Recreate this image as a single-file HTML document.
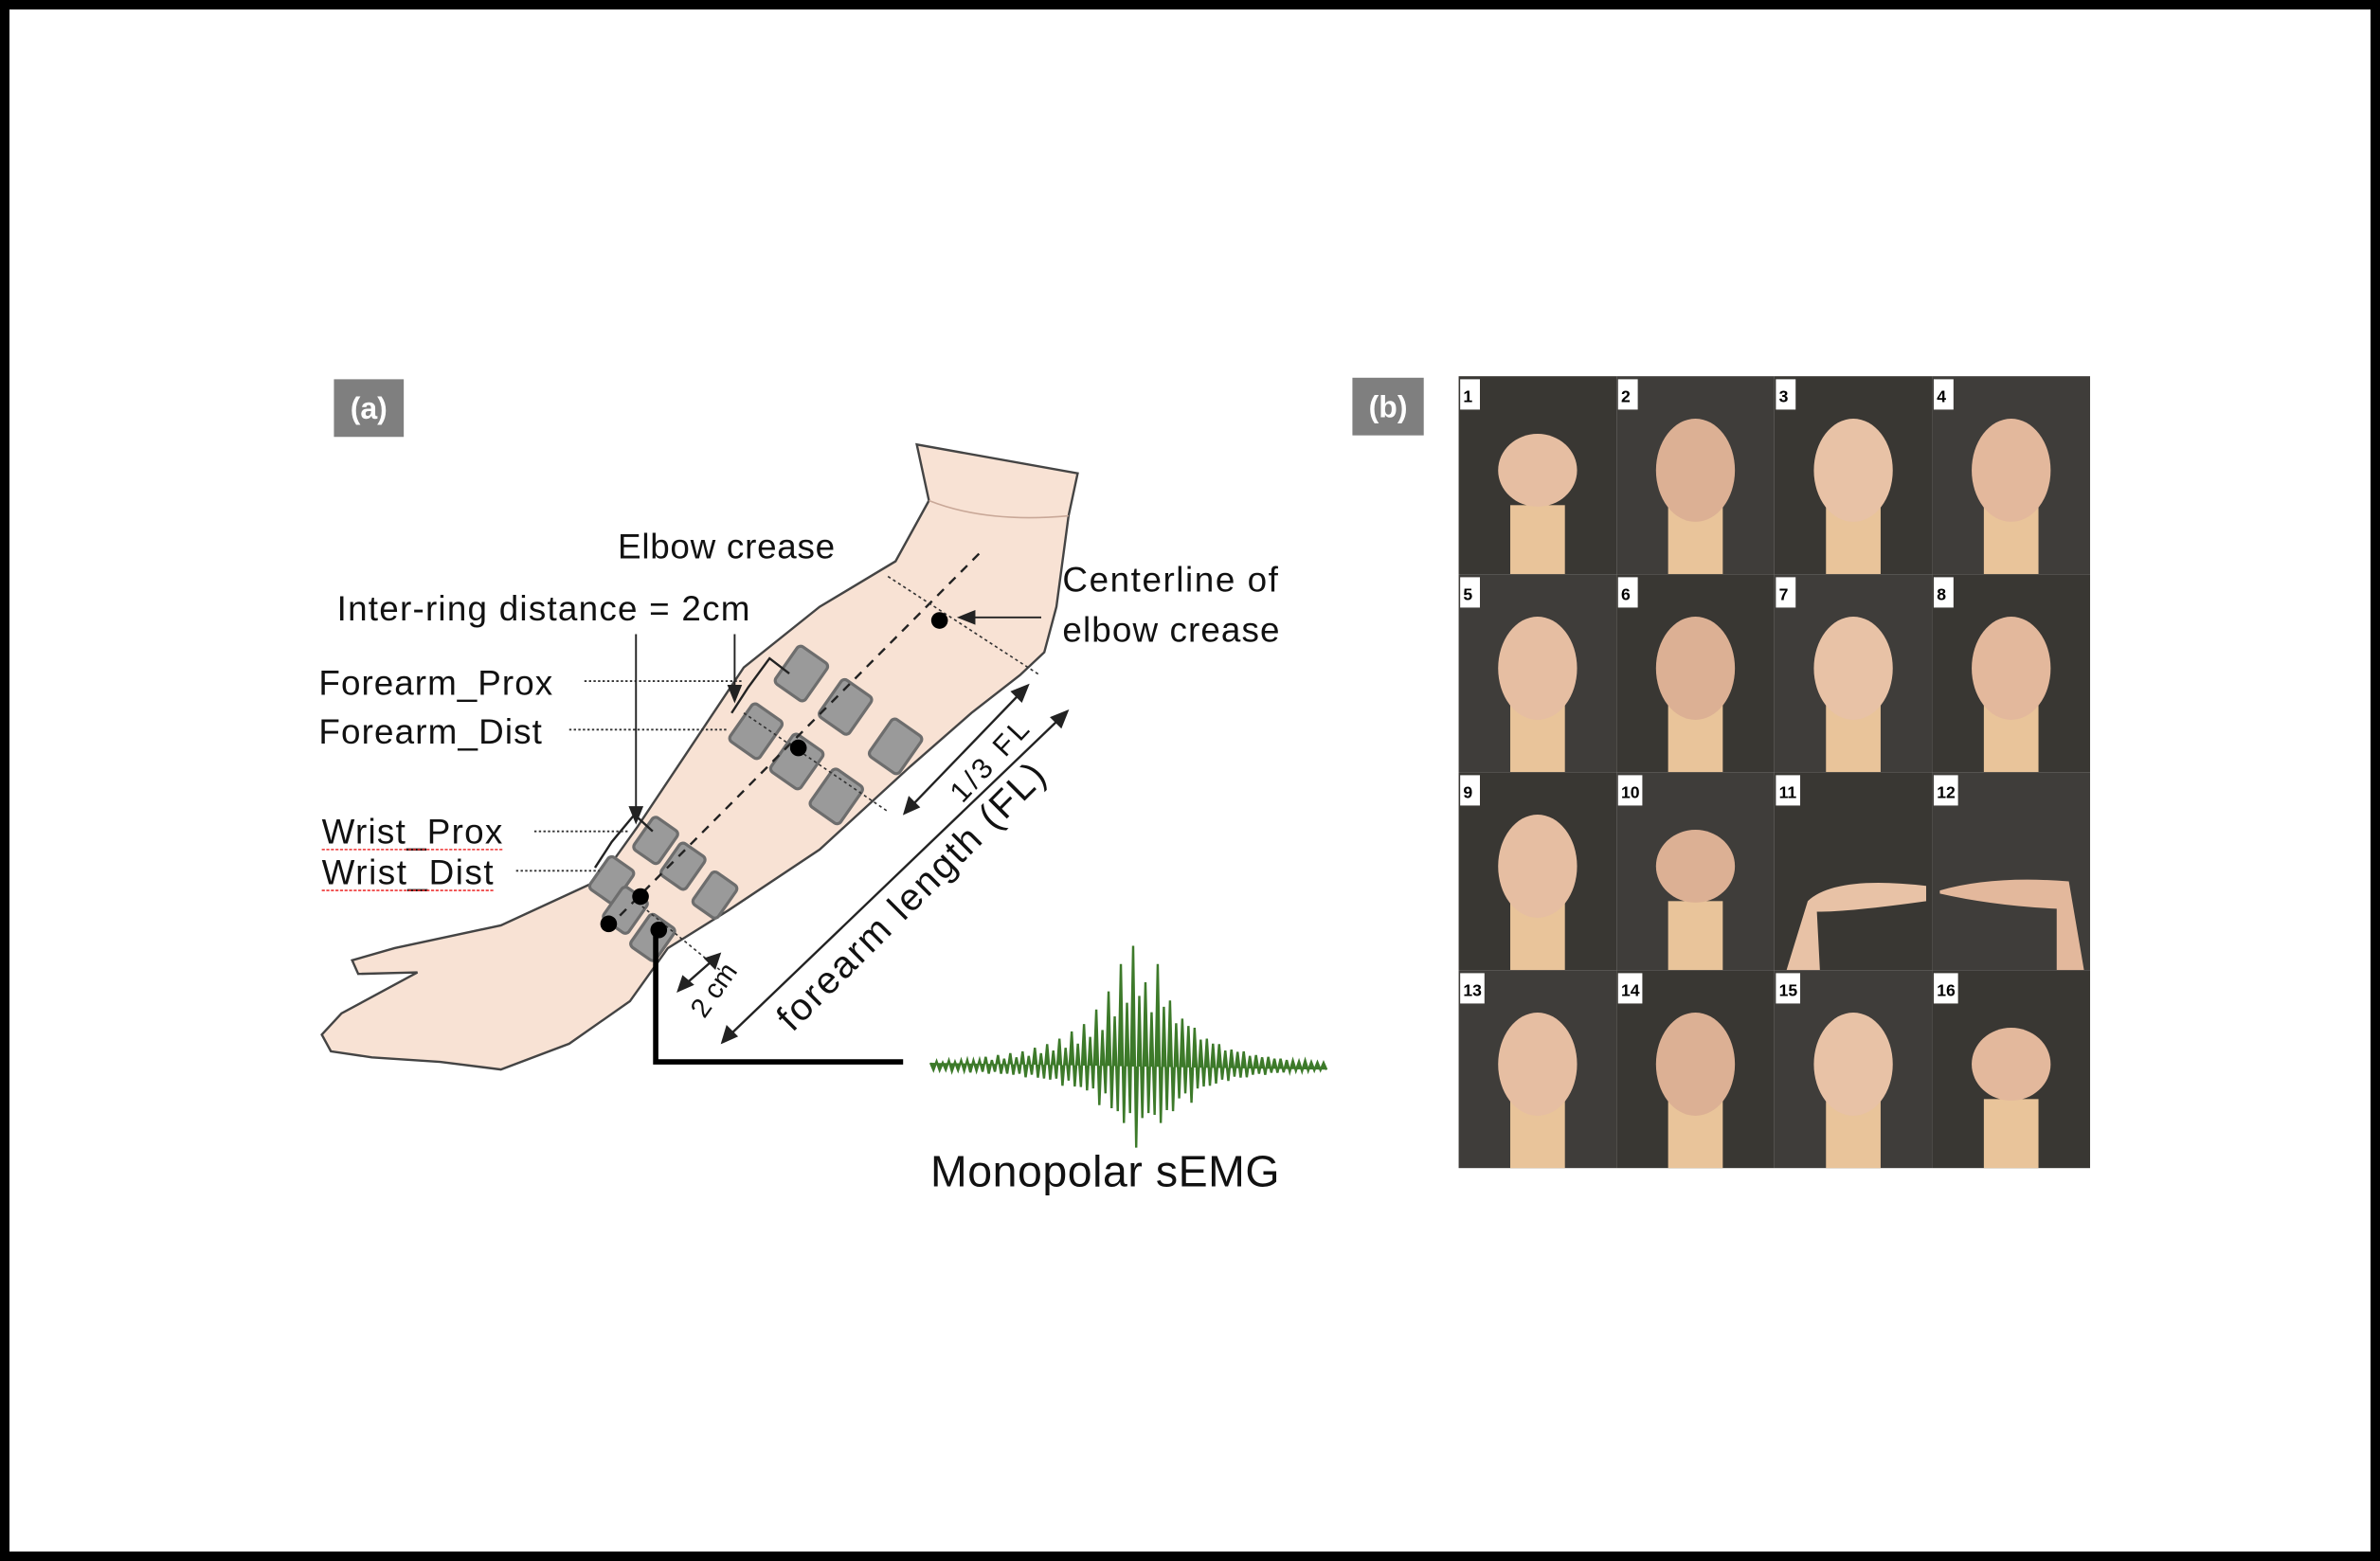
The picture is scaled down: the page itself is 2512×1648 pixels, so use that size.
<!DOCTYPE html>
<html><head><meta charset="utf-8"><style>
html,body{margin:0;padding:0;background:#000;width:2512px;height:1648px;overflow:hidden}
#canvas{position:absolute;left:10px;top:10px;width:2492px;height:1628px;background:#fff}
svg{position:absolute;left:0;top:0}
text{font-family:"Liberation Sans",sans-serif}
</style></head><body>
<div id="canvas"></div>
<svg id="fig" width="2512" height="1648" viewBox="0 0 1568 1029" preserveAspectRatio="none">
  <g>
    <rect x="220" y="250" width="46" height="38" fill="#7f7f7f"/>
    <text x="243" y="276" font-size="20" font-weight="bold" fill="#fff" text-anchor="middle">(a)</text>
    <path d="M604,293 L612,330 L590,370 L540,400 L490,440 L450,500 L420,545 L395,580 L330,610 L260,625 L232,633 L236,642 L275,641 L225,668 L212,682 L218,693 L245,697 L290,700 L330,705 L375,688 L415,660 L440,625 L480,600 L540,560 L600,505 L640,470 L672,445 L688,430 L696,400 L704,340 L710,312 Z" fill="#f8e2d4" stroke="#444" stroke-width="1.5"/>
    <path d="M612,330 Q650,345 704,340" fill="none" stroke="#c9a898" stroke-width="1"/>
    <g fill="#9a9a9a" stroke="#6d6d6d" stroke-width="2">
      <rect x="-12" y="-15" width="24" height="30" rx="3" transform="translate(528,444) rotate(35)"/>
      <rect x="-12" y="-15" width="24" height="30" rx="3" transform="translate(557,466) rotate(35)"/>
      <rect x="-12" y="-15" width="24" height="30" rx="3" transform="translate(590,492) rotate(35)"/>
      <rect x="-12" y="-15" width="24" height="30" rx="3" transform="translate(498,482) rotate(35)"/>
      <rect x="-12" y="-15" width="24" height="30" rx="3" transform="translate(525,502) rotate(35)"/>
      <rect x="-12" y="-15" width="24" height="30" rx="3" transform="translate(551,525) rotate(35)"/>
      <rect x="-10" y="-13" width="20" height="26" rx="3" transform="translate(432,554) rotate(35)"/>
      <rect x="-10" y="-13" width="20" height="26" rx="3" transform="translate(450,571) rotate(35)"/>
      <rect x="-10" y="-13" width="20" height="26" rx="3" transform="translate(471,590) rotate(35)"/>
      <rect x="-10" y="-13" width="20" height="26" rx="3" transform="translate(403,580) rotate(35)"/>
      <rect x="-10" y="-13" width="20" height="26" rx="3" transform="translate(412,600) rotate(35)"/>
      <rect x="-10" y="-13" width="20" height="26" rx="3" transform="translate(430,618) rotate(35)"/>
    </g>
    <line x1="645" y1="365" x2="400" y2="612" stroke="#222" stroke-width="1.5" stroke-dasharray="6,5"/>
    <g stroke="#333" stroke-width="1" stroke-dasharray="2,2" fill="none">
      <line x1="585" y1="380" x2="685" y2="445"/>
      <line x1="490" y1="470" x2="585" y2="535"/>
      <line x1="420" y1="595" x2="475" y2="640"/>
    </g>
    <g fill="#000">
      <circle cx="619" cy="409" r="5.5"/><circle cx="526" cy="493" r="5.5"/>
      <circle cx="422" cy="591" r="5.5"/><circle cx="401" cy="609" r="5.5"/><circle cx="434" cy="613" r="5.5"/>
    </g>
    <g stroke="#222" stroke-width="1.5" fill="none">
      <path d="M482,470 L493,453 L507,434 L520,444"/>
      <path d="M392,572 L403,555 L418,537 L430,548"/>
    </g>
    <g stroke="#333" stroke-width="1.2" stroke-dasharray="1.5,1.5">
      <line x1="385" y1="449" x2="490" y2="449"/><line x1="375" y1="481" x2="480" y2="481"/>
      <line x1="352" y1="548" x2="415" y2="548"/><line x1="340" y1="574" x2="395" y2="574"/>
    </g>
    <g stroke="#222" stroke-width="1.2" fill="#222">
      <line x1="419" y1="418" x2="419" y2="540"/><path d="M415,532 L419,542 L423,532 Z"/>
      <line x1="484" y1="418" x2="484" y2="460"/><path d="M480,452 L484,462 L488,452 Z"/>
      <line x1="686" y1="407" x2="634" y2="407"/><path d="M642,403 L632,407 L642,411 Z"/>
    </g>
    <g stroke="#222" stroke-width="1.5" fill="#222">
      <line x1="596" y1="536" x2="676" y2="453"/><path d="M596,536 L599,526 L605,532 Z"/><path d="M677,452 L667,456 L673,462 Z"/>
      <line x1="477" y1="686" x2="702" y2="470"/><path d="M476,687 L479,677 L485,683 Z"/><path d="M703,469 L693,473 L699,479 Z"/>
      <line x1="448" y1="652" x2="473" y2="630"/><path d="M447,653 L450,644 L456,649 Z"/><path d="M474,629 L465,632 L471,638 Z"/>
    </g>
    <path d="M432,612 L432,700 L595,700" stroke="#000" stroke-width="3.5" fill="none"/>
    <polyline id="emg" fill="#3d7a2a" stroke="#3d7a2a" stroke-width="1.5"/>
    <g font-size="22" fill="#111">
      <text x="407" y="368" textLength="143" font-size="23">Elbow crease</text>
      <text x="222" y="409" textLength="272" font-size="23">Inter-ring distance = 2cm</text>
      <text x="700" y="390" textLength="142" font-size="23">Centerline of</text>
      <text x="700" y="423" textLength="143" font-size="23">elbow crease</text>
      <text x="210" y="458" textLength="154" font-size="23">Forearm_Prox</text>
      <text x="210" y="490" textLength="147" font-size="23">Forearm_Dist</text>
      <text x="212" y="556" textLength="119" font-size="23">Wrist_Prox</text>
      <text x="212" y="583" textLength="113" font-size="23">Wrist_Dist</text>
      <text transform="translate(634,530) rotate(-47)" font-size="19" textLength="66">1/3 FL</text>
      <text transform="translate(522,681) rotate(-45)" font-size="25" textLength="238">forearm length (FL)</text>
      <text transform="translate(464,672) rotate(-55)" font-size="18">2 cm</text>
      <text x="613" y="782" textLength="230" font-size="29">Monopolar sEMG</text>
    </g>
    <g stroke="#e33" stroke-width="1" stroke-dasharray="2,1">
      <line x1="212" y1="560" x2="331" y2="560"/><line x1="212" y1="587" x2="326" y2="587"/>
    </g>
  </g>
  <g>
    <rect x="891" y="249" width="47" height="38" fill="#7f7f7f"/>
    <text x="914.5" y="275" font-size="20" font-weight="bold" fill="#fff" text-anchor="middle">(b)</text>
    <g id="grid"></g>
  </g>
</svg>
<script>
var NS='http://www.w3.org/2000/svg';
// EMG amplitudes (visual envelope)
var emgAmp=[1,1.5,1,2,1.5,2,3,2,3,4,3,5,4,6,5,7,6,9,8,11,10,14,12,18,15,22,20,30,25,40,35,55,45,65,50,45,38,55,42,35,30,25,28,20,18,14,15,11,10,8,9,7,6,5,5,4,4,3,3,2,2,2,1.5,1,1];
var pts=[];var x0=613,x1=872,yc=703;
for(var i=0;i<emgAmp.length;i++){var x=x0+(x1-x0)*i/(emgAmp.length-1);var a=emgAmp[i];var up=a*(i%2?1.2:0.9),dn=a*(i%3?0.65:0.8);pts.push(x+','+(yc-up-1.5));pts.push((x+2)+','+(yc+dn+1.5));}
document.getElementById('emg').setAttribute('points',pts.join(' '));
var grid=document.getElementById('grid');
var gx=961,gy=248,cw=104,ch=130.5;
var skin=['#e3b89c','#e6bea2','#dcb094','#e8c2a6'];
for(var r=0;r<4;r++)for(var c=0;c<4;c++){
  var n=r*4+c+1,x=gx+c*cw,y=gy+r*ch;
  var g=document.createElementNS(NS,'g');
  
  
  var bg=document.createElementNS(NS,'rect');
  bg.setAttribute('x',x);bg.setAttribute('y',y);bg.setAttribute('width',cw);bg.setAttribute('height',ch);bg.setAttribute('fill',(r+c)%2?'#3f3d3a':'#393733');
  g.appendChild(bg);
  var s=skin[n%4];
  if(n==11||n==12){
    var h=document.createElementNS(NS,'path');
    if(n==11)h.setAttribute('d','M'+(x+8)+','+(y+ch)+' L'+(x+22)+','+(y+85)+' Q'+(x+40)+','+(y+68)+' '+(x+100)+','+(y+75)+' L'+(x+100)+','+(y+85)+' Q'+(x+50)+','+(y+92)+' '+(x+28)+','+(y+92)+' L'+(x+30)+','+(y+ch)+' Z');
    else h.setAttribute('d','M'+(x+5)+','+(y+78)+' Q'+(x+40)+','+(y+68)+' '+(x+90)+','+(y+72)+' L'+(x+100)+','+(y+ch)+' L'+(x+82)+','+(y+ch)+' L'+(x+82)+','+(y+90)+' Q'+(x+40)+','+(y+88)+' '+(x+5)+','+(y+80)+' Z');
    h.setAttribute('fill',s);g.appendChild(h);
  } else {
    var arm=document.createElementNS(NS,'rect');
    arm.setAttribute('x',x+cw/2-18);arm.setAttribute('y',y+85);arm.setAttribute('width',36);arm.setAttribute('height',ch-85);arm.setAttribute('fill','#e9c49a');g.appendChild(arm);
    var palm=document.createElementNS(NS,'ellipse');
    palm.setAttribute('cx',x+cw/2);palm.setAttribute('cy',y+62);palm.setAttribute('rx',26);palm.setAttribute('ry',(n==1||n==16||n==10)?24:34);palm.setAttribute('fill',s);g.appendChild(palm);
  }
  var lb=document.createElementNS(NS,'rect');
  lb.setAttribute('x',x+1);lb.setAttribute('y',y+2);lb.setAttribute('width',n>9?16:13);lb.setAttribute('height',20);lb.setAttribute('fill','#fff');g.appendChild(lb);
  var t=document.createElementNS(NS,'text');
  t.setAttribute('x',x+3);t.setAttribute('y',y+17);t.setAttribute('font-size','11');t.setAttribute('font-weight','bold');t.setAttribute('fill','#000');
  
  
  t.textContent=n;g.appendChild(t);
  grid.appendChild(g);
}
</script>
</body></html>
